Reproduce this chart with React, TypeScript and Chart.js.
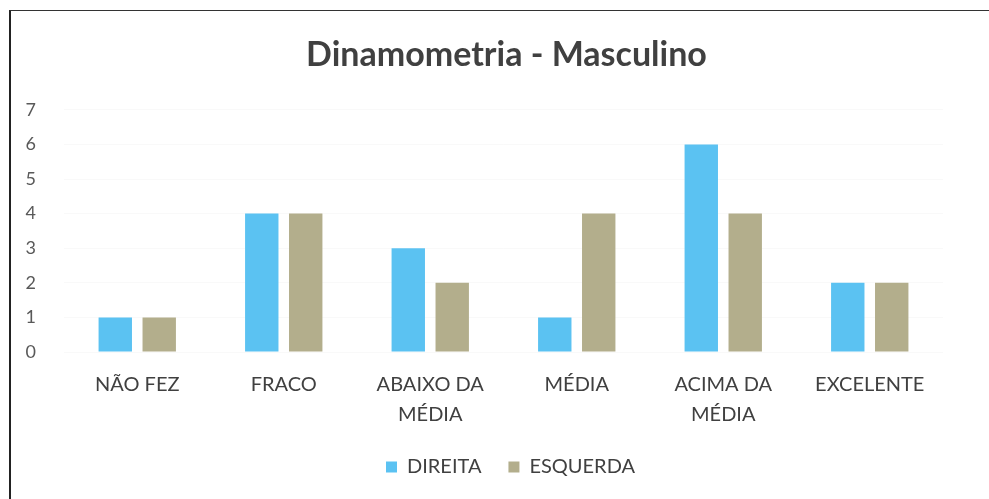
import React, { useEffect, useRef } from "react";
import { Chart, registerables } from "chart.js";

Chart.register(...registerables);

const categories: (string | string[])[] = [
  "NÃO FEZ",
  "FRACO",
  ["ABAIXO DA", "MÉDIA"],
  "MÉDIA",
  ["ACIMA DA", "MÉDIA"],
  "EXCELENTE",
];
const direita = [1, 4, 3, 1, 6, 2];
const esquerda = [1, 4, 2, 4, 4, 2];
const yTicks = [0, 1, 2, 3, 4, 5, 6, 7];

const FONT = "Lato, 'Open Sans', sans-serif";

export default function App() {
  const ref = useRef<HTMLCanvasElement | null>(null);

  useEffect(() => {
    document.body.style.margin = "0";
    const canvas = ref.current;
    if (!canvas) return;

    const shiftPlugin = {
      id: "shiftBlocks",
      afterLayout(chart: any) {
        const t = chart.titleBlock;
        if (t) {
          t.left = 20;
          t.right = 993;
        }
        const l = chart.legend;
        if (l) {
          l.left = 31;
          l.right = 990;
        }
      },
    };

    const chart = new Chart(canvas, {
      type: "bar",
      data: {
        labels: categories,
        datasets: [
          {
            label: "DIREITA",
            data: direita,
            backgroundColor: "#5BC2F2",
            barPercentage: 0.76,
            categoryPercentage: 0.6,
          },
          {
            label: "ESQUERDA",
            data: esquerda,
            backgroundColor: "#B3AE8C",
            barPercentage: 0.76,
            categoryPercentage: 0.6,
          },
        ],
      },
      options: {
        animation: false,
        responsive: false,
        maintainAspectRatio: false,
        layout: { padding: { left: 24, right: 46, top: 0, bottom: 12 } },
        plugins: {
          title: {
            display: true,
            text: "Dinamometria - Masculino",
            color: "#404040",
            font: { family: FONT, size: 34, weight: "bold", lineHeight: 1.2 },
            padding: { top: 35, bottom: 34 },
          },
          legend: {
            position: "bottom",
            labels: {
              color: "#404040",
              font: { family: FONT, size: 20 },
              boxWidth: 11,
              boxHeight: 11,
              padding: 27,
            },
          },
          tooltip: { enabled: false },
        },
        scales: {
          x: {
            grid: { display: false, drawTicks: false },
            border: { display: false },
            ticks: {
              color: "#404040",
              font: { family: FONT, size: 20, lineHeight: 1.5 },
              padding: 18,
              maxRotation: 0,
              autoSkip: false,
            },
            afterFit(scale: any) {
              scale.height = 78;
            },
          },
          y: {
            min: 0,
            max: 7,
            grid: { color: "rgba(0,0,0,0.025)", drawTicks: false },
            border: { display: false },
            afterBuildTicks(scale: any) {
              scale.ticks = yTicks.map((v) => ({ value: v }));
            },
            ticks: {
              color: "#595959",
              font: { family: FONT, size: 18 },
              padding: 28,
            },
            afterFit(scale: any) {
              scale.width = 40;
            },
          },
        },
      },
      plugins: [shiftPlugin],
    });

    return () => chart.destroy();
  }, []);

  return (
    <div style={{ position: "relative", width: 989, height: 499, background: "#fff" }}>
      <canvas ref={ref} width={989} height={499} style={{ display: "block" }} />
      <div
        style={{
          position: "absolute",
          left: 9,
          top: 10,
          width: 980,
          height: 489,
          borderTop: "1.5px solid #333",
          borderLeft: "2px solid #222",
          pointerEvents: "none",
        }}
      />
    </div>
  );
}
